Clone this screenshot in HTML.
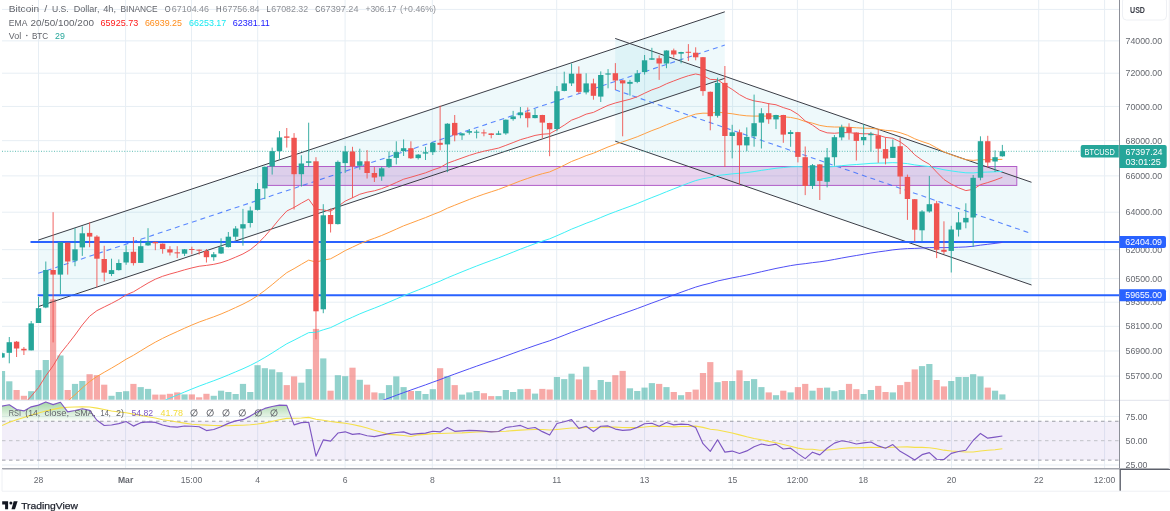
<!DOCTYPE html>
<html><head><meta charset="utf-8"><style>
html,body{margin:0;padding:0;background:#fff;}
body{width:1170px;height:511px;overflow:hidden;font-family:"Liberation Sans",sans-serif;}
svg{display:block;will-change:transform;}
</style></head><body>
<svg width="1170" height="511" viewBox="0 0 1170 511">
<rect width="1170" height="511" fill="#fff"/>
<g>
<defs>
<clipPath id="mainclip"><rect x="2" y="0" width="1117.5" height="400"/></clipPath>
<clipPath id="rsiclip"><rect x="2" y="400.5" width="1117.5" height="68"/></clipPath>
<linearGradient id="obg" gradientUnits="userSpaceOnUse" x1="0" y1="392" x2="0" y2="421.3"><stop offset="0" stop-color="rgb(76,175,80)" stop-opacity="0.75"/><stop offset="1" stop-color="rgb(76,175,80)" stop-opacity="0.02"/></linearGradient>
</defs>
<line x1="2" x2="1119.5" y1="9.4" y2="9.4" stroke="#e7eef4" stroke-width="1"/>
<line x1="2" x2="1119.5" y1="40.87" y2="40.87" stroke="#e7eef4" stroke-width="1"/>
<line x1="2" x2="1119.5" y1="73.2" y2="73.2" stroke="#e7eef4" stroke-width="1"/>
<line x1="2" x2="1119.5" y1="106.45" y2="106.45" stroke="#e7eef4" stroke-width="1"/>
<line x1="2" x2="1119.5" y1="140.66" y2="140.66" stroke="#e7eef4" stroke-width="1"/>
<line x1="2" x2="1119.5" y1="175.89" y2="175.89" stroke="#e7eef4" stroke-width="1"/>
<line x1="2" x2="1119.5" y1="212.2" y2="212.2" stroke="#e7eef4" stroke-width="1"/>
<line x1="2" x2="1119.5" y1="249.67" y2="249.67" stroke="#e7eef4" stroke-width="1"/>
<line x1="2" x2="1119.5" y1="278.57" y2="278.57" stroke="#e7eef4" stroke-width="1"/>
<line x1="2" x2="1119.5" y1="302.21" y2="302.21" stroke="#e7eef4" stroke-width="1"/>
<line x1="2" x2="1119.5" y1="326.34" y2="326.34" stroke="#e7eef4" stroke-width="1"/>
<line x1="2" x2="1119.5" y1="350.97" y2="350.97" stroke="#e7eef4" stroke-width="1"/>
<line x1="2" x2="1119.5" y1="376.12" y2="376.12" stroke="#e7eef4" stroke-width="1"/>
<line x1="38.5" x2="38.5" y1="0" y2="469" stroke="#e7eef4" stroke-width="1"/>
<line x1="125.6" x2="125.6" y1="0" y2="469" stroke="#e7eef4" stroke-width="1"/>
<line x1="191.5" x2="191.5" y1="0" y2="469" stroke="#e7eef4" stroke-width="1"/>
<line x1="257.7" x2="257.7" y1="0" y2="469" stroke="#e7eef4" stroke-width="1"/>
<line x1="345.1" x2="345.1" y1="0" y2="469" stroke="#e7eef4" stroke-width="1"/>
<line x1="432.3" x2="432.3" y1="0" y2="469" stroke="#e7eef4" stroke-width="1"/>
<line x1="556.7" x2="556.7" y1="0" y2="469" stroke="#e7eef4" stroke-width="1"/>
<line x1="644.6" x2="644.6" y1="0" y2="469" stroke="#e7eef4" stroke-width="1"/>
<line x1="732.6" x2="732.6" y1="0" y2="469" stroke="#e7eef4" stroke-width="1"/>
<line x1="797.4" x2="797.4" y1="0" y2="469" stroke="#e7eef4" stroke-width="1"/>
<line x1="863.3" x2="863.3" y1="0" y2="469" stroke="#e7eef4" stroke-width="1"/>
<line x1="951.5" x2="951.5" y1="0" y2="469" stroke="#e7eef4" stroke-width="1"/>
<line x1="1038.7" x2="1038.7" y1="0" y2="469" stroke="#e7eef4" stroke-width="1"/>
<line x1="1104.6" x2="1104.6" y1="0" y2="469" stroke="#e7eef4" stroke-width="1"/>
<line x1="2" x2="1119.5" y1="416.4" y2="416.4" stroke="#e7eef4" stroke-width="1"/>
<line x1="2" x2="1119.5" y1="465" y2="465" stroke="#e7eef4" stroke-width="1"/>
<g clip-path="url(#mainclip)">
<polygon points="38.2,240.1 724.8,11.8 724.8,78.3 38.2,306.6" fill="rgba(0,170,200,0.065)"/>
<polygon points="615.2,38.45 1031.5,182.28 1031.5,284.98 615.2,141.15" fill="rgba(0,170,200,0.065)"/>
<rect x="267.4" y="166.5" width="749.4" height="18.9" fill="rgba(156,39,176,0.2)" stroke="#b15ec8" stroke-width="1"/>
<rect x="-1.11" y="371" width="6.2" height="28.8" fill="rgba(38,166,154,0.5)"/>
<rect x="6.19" y="381.3" width="6.2" height="18.5" fill="rgba(38,166,154,0.5)"/>
<rect x="13.49" y="390" width="6.2" height="9.8" fill="rgba(239,83,80,0.5)"/>
<rect x="20.8" y="395.8" width="6.2" height="4" fill="rgba(239,83,80,0.5)"/>
<rect x="28.1" y="391.2" width="6.2" height="8.6" fill="rgba(38,166,154,0.5)"/>
<rect x="35.4" y="370.1" width="6.2" height="29.7" fill="rgba(38,166,154,0.5)"/>
<rect x="42.7" y="360" width="6.2" height="39.8" fill="rgba(38,166,154,0.5)"/>
<rect x="50" y="299.4" width="6.2" height="100.4" fill="rgba(239,83,80,0.5)"/>
<rect x="57.31" y="355.5" width="6.2" height="44.3" fill="rgba(38,166,154,0.5)"/>
<rect x="64.61" y="390" width="6.2" height="9.8" fill="rgba(239,83,80,0.5)"/>
<rect x="71.91" y="383.9" width="6.2" height="15.9" fill="rgba(38,166,154,0.5)"/>
<rect x="79.21" y="381" width="6.2" height="18.8" fill="rgba(38,166,154,0.5)"/>
<rect x="86.51" y="374.2" width="6.2" height="25.6" fill="rgba(239,83,80,0.5)"/>
<rect x="93.82" y="375.2" width="6.2" height="24.6" fill="rgba(239,83,80,0.5)"/>
<rect x="101.12" y="384.7" width="6.2" height="15.1" fill="rgba(239,83,80,0.5)"/>
<rect x="108.42" y="395.8" width="6.2" height="4" fill="rgba(38,166,154,0.5)"/>
<rect x="115.72" y="392" width="6.2" height="7.8" fill="rgba(38,166,154,0.5)"/>
<rect x="123.02" y="391.2" width="6.2" height="8.6" fill="rgba(38,166,154,0.5)"/>
<rect x="130.33" y="383.9" width="6.2" height="15.9" fill="rgba(239,83,80,0.5)"/>
<rect x="137.63" y="387.1" width="6.2" height="12.7" fill="rgba(38,166,154,0.5)"/>
<rect x="144.93" y="388.9" width="6.2" height="10.9" fill="rgba(38,166,154,0.5)"/>
<rect x="152.23" y="394.6" width="6.2" height="5.2" fill="rgba(239,83,80,0.5)"/>
<rect x="159.53" y="394.6" width="6.2" height="5.2" fill="rgba(239,83,80,0.5)"/>
<rect x="166.84" y="393.8" width="6.2" height="6" fill="rgba(239,83,80,0.5)"/>
<rect x="174.14" y="392.4" width="6.2" height="7.4" fill="rgba(239,83,80,0.5)"/>
<rect x="181.44" y="394.4" width="6.2" height="5.4" fill="rgba(38,166,154,0.5)"/>
<rect x="188.74" y="394.4" width="6.2" height="5.4" fill="rgba(239,83,80,0.5)"/>
<rect x="196.04" y="397.3" width="6.2" height="2.5" fill="rgba(239,83,80,0.5)"/>
<rect x="203.35" y="393.8" width="6.2" height="6" fill="rgba(239,83,80,0.5)"/>
<rect x="210.65" y="395.8" width="6.2" height="4" fill="rgba(38,166,154,0.5)"/>
<rect x="217.95" y="390.7" width="6.2" height="9.1" fill="rgba(38,166,154,0.5)"/>
<rect x="225.25" y="392" width="6.2" height="7.8" fill="rgba(38,166,154,0.5)"/>
<rect x="232.55" y="394" width="6.2" height="5.8" fill="rgba(38,166,154,0.5)"/>
<rect x="239.86" y="383.9" width="6.2" height="15.9" fill="rgba(38,166,154,0.5)"/>
<rect x="247.16" y="392" width="6.2" height="7.8" fill="rgba(38,166,154,0.5)"/>
<rect x="254.46" y="365.2" width="6.2" height="34.6" fill="rgba(38,166,154,0.5)"/>
<rect x="261.76" y="368.2" width="6.2" height="31.6" fill="rgba(38,166,154,0.5)"/>
<rect x="269.06" y="369.4" width="6.2" height="30.4" fill="rgba(38,166,154,0.5)"/>
<rect x="276.37" y="372.2" width="6.2" height="27.6" fill="rgba(38,166,154,0.5)"/>
<rect x="283.67" y="385.1" width="6.2" height="14.7" fill="rgba(239,83,80,0.5)"/>
<rect x="290.97" y="376.4" width="6.2" height="23.4" fill="rgba(239,83,80,0.5)"/>
<rect x="298.27" y="382.7" width="6.2" height="17.1" fill="rgba(38,166,154,0.5)"/>
<rect x="305.57" y="369.1" width="6.2" height="30.7" fill="rgba(38,166,154,0.5)"/>
<rect x="312.88" y="328.9" width="6.2" height="70.9" fill="rgba(239,83,80,0.5)"/>
<rect x="320.18" y="358.4" width="6.2" height="41.4" fill="rgba(38,166,154,0.5)"/>
<rect x="327.48" y="390.7" width="6.2" height="9.1" fill="rgba(239,83,80,0.5)"/>
<rect x="334.78" y="375.2" width="6.2" height="24.6" fill="rgba(38,166,154,0.5)"/>
<rect x="342.08" y="376.2" width="6.2" height="23.6" fill="rgba(38,166,154,0.5)"/>
<rect x="349.39" y="367.7" width="6.2" height="32.1" fill="rgba(239,83,80,0.5)"/>
<rect x="356.69" y="379.8" width="6.2" height="20" fill="rgba(38,166,154,0.5)"/>
<rect x="363.99" y="384.7" width="6.2" height="15.1" fill="rgba(239,83,80,0.5)"/>
<rect x="371.29" y="392.4" width="6.2" height="7.4" fill="rgba(239,83,80,0.5)"/>
<rect x="378.59" y="393.2" width="6.2" height="6.6" fill="rgba(38,166,154,0.5)"/>
<rect x="385.9" y="385.1" width="6.2" height="14.7" fill="rgba(38,166,154,0.5)"/>
<rect x="393.2" y="376.4" width="6.2" height="23.4" fill="rgba(38,166,154,0.5)"/>
<rect x="400.5" y="387.1" width="6.2" height="12.7" fill="rgba(38,166,154,0.5)"/>
<rect x="407.8" y="391" width="6.2" height="8.8" fill="rgba(239,83,80,0.5)"/>
<rect x="415.1" y="391" width="6.2" height="8.8" fill="rgba(38,166,154,0.5)"/>
<rect x="422.41" y="394" width="6.2" height="5.8" fill="rgba(38,166,154,0.5)"/>
<rect x="429.71" y="389.2" width="6.2" height="10.6" fill="rgba(38,166,154,0.5)"/>
<rect x="437.01" y="368.2" width="6.2" height="31.6" fill="rgba(239,83,80,0.5)"/>
<rect x="444.31" y="376.2" width="6.2" height="23.6" fill="rgba(38,166,154,0.5)"/>
<rect x="451.61" y="385.1" width="6.2" height="14.7" fill="rgba(239,83,80,0.5)"/>
<rect x="458.92" y="394.6" width="6.2" height="5.2" fill="rgba(38,166,154,0.5)"/>
<rect x="466.22" y="392.4" width="6.2" height="7.4" fill="rgba(38,166,154,0.5)"/>
<rect x="473.52" y="391" width="6.2" height="8.8" fill="rgba(38,166,154,0.5)"/>
<rect x="480.82" y="393.2" width="6.2" height="6.6" fill="rgba(239,83,80,0.5)"/>
<rect x="488.12" y="396.1" width="6.2" height="3.7" fill="rgba(239,83,80,0.5)"/>
<rect x="495.43" y="396.1" width="6.2" height="3.7" fill="rgba(38,166,154,0.5)"/>
<rect x="502.73" y="390" width="6.2" height="9.8" fill="rgba(38,166,154,0.5)"/>
<rect x="510.03" y="392" width="6.2" height="7.8" fill="rgba(38,166,154,0.5)"/>
<rect x="517.33" y="389.2" width="6.2" height="10.6" fill="rgba(38,166,154,0.5)"/>
<rect x="524.63" y="388.9" width="6.2" height="10.9" fill="rgba(239,83,80,0.5)"/>
<rect x="531.94" y="393.6" width="6.2" height="6.2" fill="rgba(38,166,154,0.5)"/>
<rect x="539.24" y="388.9" width="6.2" height="10.9" fill="rgba(239,83,80,0.5)"/>
<rect x="546.54" y="389.5" width="6.2" height="10.3" fill="rgba(239,83,80,0.5)"/>
<rect x="553.84" y="377" width="6.2" height="22.8" fill="rgba(38,166,154,0.5)"/>
<rect x="561.14" y="379.1" width="6.2" height="20.7" fill="rgba(38,166,154,0.5)"/>
<rect x="568.45" y="373.7" width="6.2" height="26.1" fill="rgba(38,166,154,0.5)"/>
<rect x="575.75" y="379.4" width="6.2" height="20.4" fill="rgba(239,83,80,0.5)"/>
<rect x="583.05" y="366.7" width="6.2" height="33.1" fill="rgba(38,166,154,0.5)"/>
<rect x="590.35" y="390" width="6.2" height="9.8" fill="rgba(239,83,80,0.5)"/>
<rect x="597.65" y="380" width="6.2" height="19.8" fill="rgba(38,166,154,0.5)"/>
<rect x="604.96" y="381.9" width="6.2" height="17.9" fill="rgba(38,166,154,0.5)"/>
<rect x="612.26" y="375.2" width="6.2" height="24.6" fill="rgba(239,83,80,0.5)"/>
<rect x="619.56" y="370.9" width="6.2" height="28.9" fill="rgba(239,83,80,0.5)"/>
<rect x="626.86" y="388.3" width="6.2" height="11.5" fill="rgba(38,166,154,0.5)"/>
<rect x="634.16" y="391" width="6.2" height="8.8" fill="rgba(38,166,154,0.5)"/>
<rect x="641.47" y="387.6" width="6.2" height="12.2" fill="rgba(38,166,154,0.5)"/>
<rect x="648.77" y="383.1" width="6.2" height="16.7" fill="rgba(38,166,154,0.5)"/>
<rect x="656.07" y="383.9" width="6.2" height="15.9" fill="rgba(239,83,80,0.5)"/>
<rect x="663.37" y="387.1" width="6.2" height="12.7" fill="rgba(38,166,154,0.5)"/>
<rect x="670.67" y="392" width="6.2" height="7.8" fill="rgba(239,83,80,0.5)"/>
<rect x="677.98" y="395.2" width="6.2" height="4.6" fill="rgba(38,166,154,0.5)"/>
<rect x="685.28" y="392" width="6.2" height="7.8" fill="rgba(239,83,80,0.5)"/>
<rect x="692.58" y="389.6" width="6.2" height="10.2" fill="rgba(239,83,80,0.5)"/>
<rect x="699.88" y="373" width="6.2" height="26.8" fill="rgba(239,83,80,0.5)"/>
<rect x="707.18" y="362.1" width="6.2" height="37.7" fill="rgba(239,83,80,0.5)"/>
<rect x="714.49" y="382.2" width="6.2" height="17.6" fill="rgba(38,166,154,0.5)"/>
<rect x="721.79" y="381" width="6.2" height="18.8" fill="rgba(239,83,80,0.5)"/>
<rect x="729.09" y="381" width="6.2" height="18.8" fill="rgba(38,166,154,0.5)"/>
<rect x="736.39" y="370.3" width="6.2" height="29.5" fill="rgba(239,83,80,0.5)"/>
<rect x="743.69" y="381" width="6.2" height="18.8" fill="rgba(38,166,154,0.5)"/>
<rect x="751" y="379.1" width="6.2" height="20.7" fill="rgba(38,166,154,0.5)"/>
<rect x="758.3" y="387.1" width="6.2" height="12.7" fill="rgba(38,166,154,0.5)"/>
<rect x="765.6" y="392.4" width="6.2" height="7.4" fill="rgba(239,83,80,0.5)"/>
<rect x="772.9" y="395.2" width="6.2" height="4.6" fill="rgba(38,166,154,0.5)"/>
<rect x="780.2" y="390.7" width="6.2" height="9.1" fill="rgba(239,83,80,0.5)"/>
<rect x="787.51" y="392.4" width="6.2" height="7.4" fill="rgba(38,166,154,0.5)"/>
<rect x="794.81" y="387.1" width="6.2" height="12.7" fill="rgba(239,83,80,0.5)"/>
<rect x="802.11" y="383.9" width="6.2" height="15.9" fill="rgba(239,83,80,0.5)"/>
<rect x="809.41" y="390.7" width="6.2" height="9.1" fill="rgba(38,166,154,0.5)"/>
<rect x="816.71" y="387.9" width="6.2" height="11.9" fill="rgba(239,83,80,0.5)"/>
<rect x="824.02" y="387.6" width="6.2" height="12.2" fill="rgba(38,166,154,0.5)"/>
<rect x="831.32" y="391.2" width="6.2" height="8.6" fill="rgba(38,166,154,0.5)"/>
<rect x="838.62" y="390" width="6.2" height="9.8" fill="rgba(38,166,154,0.5)"/>
<rect x="845.92" y="383.9" width="6.2" height="15.9" fill="rgba(239,83,80,0.5)"/>
<rect x="853.22" y="389.2" width="6.2" height="10.6" fill="rgba(239,83,80,0.5)"/>
<rect x="860.53" y="394" width="6.2" height="5.8" fill="rgba(38,166,154,0.5)"/>
<rect x="867.83" y="390" width="6.2" height="9.8" fill="rgba(38,166,154,0.5)"/>
<rect x="875.13" y="385.9" width="6.2" height="13.9" fill="rgba(239,83,80,0.5)"/>
<rect x="882.43" y="392" width="6.2" height="7.8" fill="rgba(239,83,80,0.5)"/>
<rect x="889.73" y="392.4" width="6.2" height="7.4" fill="rgba(38,166,154,0.5)"/>
<rect x="897.04" y="385.1" width="6.2" height="14.7" fill="rgba(239,83,80,0.5)"/>
<rect x="904.34" y="381.9" width="6.2" height="17.9" fill="rgba(239,83,80,0.5)"/>
<rect x="911.64" y="369.4" width="6.2" height="30.4" fill="rgba(239,83,80,0.5)"/>
<rect x="918.94" y="366.1" width="6.2" height="33.7" fill="rgba(38,166,154,0.5)"/>
<rect x="926.24" y="364" width="6.2" height="35.8" fill="rgba(38,166,154,0.5)"/>
<rect x="933.55" y="380" width="6.2" height="19.8" fill="rgba(239,83,80,0.5)"/>
<rect x="940.85" y="386.4" width="6.2" height="13.4" fill="rgba(239,83,80,0.5)"/>
<rect x="948.15" y="381" width="6.2" height="18.8" fill="rgba(38,166,154,0.5)"/>
<rect x="955.45" y="377" width="6.2" height="22.8" fill="rgba(38,166,154,0.5)"/>
<rect x="962.75" y="377" width="6.2" height="22.8" fill="rgba(38,166,154,0.5)"/>
<rect x="970.06" y="374.2" width="6.2" height="25.6" fill="rgba(38,166,154,0.5)"/>
<rect x="977.36" y="376.4" width="6.2" height="23.4" fill="rgba(38,166,154,0.5)"/>
<rect x="984.66" y="387.6" width="6.2" height="12.2" fill="rgba(239,83,80,0.5)"/>
<rect x="991.96" y="390.7" width="6.2" height="9.1" fill="rgba(38,166,154,0.5)"/>
<rect x="999.26" y="394.4" width="6.2" height="5.4" fill="rgba(38,166,154,0.5)"/>
<line x1="38.2" y1="240.1" x2="724.8" y2="11.8" stroke="#3a3d46" stroke-width="1"/>
<line x1="38.2" y1="306.6" x2="724.8" y2="78.3" stroke="#3a3d46" stroke-width="1"/>
<line x1="38.2" y1="273.35" x2="724.8" y2="45.05" stroke="#2962ff" stroke-width="1.1" stroke-dasharray="5 4" opacity="0.75"/>
<line x1="615.2" y1="38.45" x2="1031.5" y2="182.28" stroke="#3a3d46" stroke-width="1"/>
<line x1="615.2" y1="141.15" x2="1031.5" y2="284.98" stroke="#3a3d46" stroke-width="1"/>
<line x1="615.2" y1="89.8" x2="1031.5" y2="233.63" stroke="#2962ff" stroke-width="1.1" stroke-dasharray="5 4" opacity="0.75"/>
<line x1="30.5" x2="1120" y1="242" y2="242" stroke="#2962ff" stroke-width="2"/>
<line x1="37.7" x2="1120" y1="295.2" y2="295.2" stroke="#2962ff" stroke-width="2"/>
<line x1="2" x2="1119" y1="151.3" y2="151.3" stroke="#26a69a" stroke-width="1" stroke-dasharray="1 1.6" opacity="0.75"/>
<polyline points="1.99,537.46 9.29,535.35 16.59,533.34 23.9,531.37 31.2,529.11 38.5,526.69 45.8,523.84 53.1,521.08 60.41,517.96 67.71,515.11 75.01,512.15 82.31,509.02 89.61,505.98 96.92,503.25 104.22,500.71 111.52,498.18 118.82,495.59 126.12,492.91 133.43,490.39 140.73,487.69 148.03,484.98 155.33,482.31 162.63,479.75 169.94,477.26 177.24,474.81 184.54,472.34 191.84,469.9 199.14,467.51 206.45,465.22 213.75,462.92 221.05,460.57 228.35,458.12 235.65,455.6 242.96,453.06 250.26,450.38 257.56,447.48 264.86,444.33 272.16,441.02 279.47,437.58 286.77,434.19 294.07,431.3 301.37,428.31 308.67,425.33 315.98,424.14 323.28,421.87 330.58,419.73 337.88,416.87 345.18,413.91 352.49,411.17 359.79,408.4 367.09,405.82 374.39,403.31 381.69,400.73 389,398.06 396.3,395.34 403.6,392.61 410.9,390.03 418.2,387.44 425.51,384.86 432.81,382.19 440.11,379.57 447.41,376.73 454.71,374.07 462.02,371.42 469.32,368.77 476.62,366.16 483.92,363.6 491.22,361.09 498.53,358.6 505.83,355.96 513.13,353.32 520.43,350.67 527.73,348.11 535.04,345.55 542.34,343.11 549.64,340.78 556.94,338.02 564.24,335.2 571.55,332.29 578.85,329.64 586.15,326.92 593.45,324.38 600.75,321.62 608.06,318.87 615.36,316.25 622.66,313.69 629.96,311.14 637.26,308.53 644.57,305.78 651.87,303.04 659.17,300.4 666.47,297.64 673.77,294.95 681.08,292.27 688.38,289.63 695.68,287.08 702.98,284.96 710.28,283.16 717.59,280.99 724.89,279.45 732.19,277.89 739.49,276.5 746.79,275.03 754.1,273.41 761.4,271.71 768.7,270.09 776,268.44 783.3,267.03 790.61,265.61 797.91,264.48 805.21,263.67 812.51,262.65 819.81,261.81 827.12,260.72 834.42,259.43 841.72,258.04 849.02,256.72 856.32,255.51 863.63,254.27 870.93,253.01 878.23,251.92 885.53,250.96 892.83,249.87 900.14,249.12 907.44,248.61 914.74,248.42 922.04,248.05 929.34,247.6 936.65,247.63 943.95,247.67 951.25,247.48 958.55,247.23 965.85,246.94 973.16,246.23 980.46,245.14 987.76,244.29 995.06,243.39 1002.36,242.43" fill="none" stroke="#4646f4" stroke-width="0.95" stroke-linejoin="round" opacity="1"/>
<polyline points="1.99,481.29 9.29,478.37 16.59,475.65 23.9,473.04 31.2,469.88 38.5,466.46 45.8,462.23 53.1,458.21 60.41,453.53 67.71,449.41 75.01,445.1 82.31,440.51 89.61,436.11 96.92,432.33 104.22,428.94 111.52,425.58 118.82,422.14 126.12,418.52 133.43,415.23 140.73,411.64 148.03,408.04 155.33,404.54 162.63,401.26 169.94,398.12 177.24,395.08 184.54,392.01 191.84,389.02 199.14,386.12 206.45,383.42 213.75,380.72 221.05,377.93 228.35,374.96 235.65,371.87 242.96,368.76 250.26,365.41 257.56,361.65 264.86,357.46 272.16,353.01 279.47,348.33 286.77,343.78 294.07,340.17 301.37,336.4 308.67,332.67 315.98,332.24 323.28,329.81 330.58,327.63 337.88,324.11 345.18,320.43 352.49,317.18 359.79,313.88 367.09,310.92 374.39,308.13 381.69,305.19 389,302.11 396.3,298.95 403.6,295.77 410.9,292.89 418.2,289.98 425.51,287.09 432.81,284.06 440.11,281.13 447.41,277.8 454.71,274.81 462.02,271.84 469.32,268.88 476.62,266.01 483.92,263.23 491.22,260.55 498.53,257.89 505.83,254.99 513.13,252.08 520.43,249.15 527.73,246.41 535.04,243.66 542.34,241.14 549.64,238.82 556.94,235.71 564.24,232.5 571.55,229.14 578.85,226.26 586.15,223.25 593.45,220.59 600.75,217.53 608.06,214.5 615.36,211.69 622.66,209.01 629.96,206.35 637.26,203.57 644.57,200.56 651.87,197.57 659.17,194.76 666.47,191.73 673.77,188.85 681.08,185.98 688.38,183.19 695.68,180.56 702.98,178.72 710.28,177.45 717.59,175.5 724.89,174.71 732.19,173.85 739.49,173.28 746.79,172.55 754.1,171.55 761.4,170.37 768.7,169.34 776,168.24 783.3,167.56 790.61,166.85 797.91,166.65 805.21,167.03 812.51,166.99 819.81,167.27 827.12,167.07 834.42,166.47 841.72,165.68 849.02,165.01 856.32,164.53 863.63,163.98 870.93,163.37 878.23,163.08 885.53,162.99 892.83,162.67 900.14,162.94 907.44,163.64 914.74,164.92 922.04,165.82 929.34,166.57 936.65,168.16 943.95,169.76 951.25,170.92 958.55,171.91 965.85,172.81 973.16,172.91 980.46,172.27 987.76,172.08 995.06,171.78 1002.36,171.37" fill="none" stroke="#3ef0f6" stroke-width="1" stroke-linejoin="round" opacity="1"/>
<polyline points="1.99,448.64 9.29,444.28 16.59,440.37 23.9,436.71 31.2,432.06 38.5,426.95 45.8,420.38 53.1,414.31 60.41,407.07 67.71,401.01 75.01,394.68 82.31,387.92 89.61,381.61 96.92,376.54 104.22,372.28 111.52,368.11 118.82,363.8 126.12,359.22 133.43,355.3 140.73,350.82 148.03,346.37 155.33,342.16 162.63,338.36 169.94,334.87 177.24,331.57 184.54,328.23 191.84,325.06 199.14,322.05 206.45,319.44 213.75,316.82 221.05,314 228.35,310.88 235.65,307.53 242.96,304.15 250.26,300.34 257.56,295.77 264.86,290.43 272.16,284.65 279.47,278.51 286.77,272.67 294.07,268.65 301.37,264.34 308.67,260.13 315.98,262.09 323.28,260.22 330.58,258.79 337.88,254.83 345.18,250.6 352.49,247.18 359.79,243.69 367.09,240.84 374.39,238.29 381.69,235.47 389,232.37 396.3,229.12 403.6,225.84 410.9,223.11 418.2,220.35 425.51,217.6 432.81,214.58 440.11,211.76 447.41,208.18 454.71,205.24 462.02,202.34 469.32,199.46 476.62,196.73 483.92,194.18 491.22,191.8 498.53,189.45 505.83,186.64 513.13,183.8 520.43,180.92 527.73,178.4 535.04,175.85 542.34,173.71 549.64,171.94 556.94,168.67 564.24,165.21 571.55,161.48 578.85,158.67 586.15,155.63 593.45,153.23 600.75,150.06 608.06,146.96 615.36,144.28 622.66,141.83 629.96,139.42 637.26,136.76 644.57,133.67 651.87,130.62 659.17,127.92 666.47,124.78 673.77,121.95 681.08,119.12 688.38,116.45 695.68,114.07 702.98,113.16 710.28,113.28 717.59,112.07 724.89,113 732.19,113.75 739.49,114.98 746.79,115.83 754.1,116.12 761.4,116.01 768.7,116.13 776,116.09 783.3,116.81 790.61,117.41 797.91,118.93 805.21,121.49 812.51,123.17 819.81,125.38 827.12,126.62 834.42,127.03 841.72,127.04 849.02,127.25 856.32,127.79 863.63,128.15 870.93,128.37 878.23,129.16 885.53,130.3 892.83,130.94 900.14,132.69 907.44,135.22 914.74,138.79 922.04,141.56 929.34,143.95 936.65,147.93 943.95,151.84 951.25,154.79 958.55,157.37 965.85,159.68 973.16,160.39 980.46,159.63 987.76,159.74 995.06,159.64 1002.36,159.31" fill="none" stroke="#ff9f43" stroke-width="1" stroke-linejoin="round" opacity="1"/>
<polyline points="1.99,424.74 9.29,416.63 16.59,409.97 23.9,404.16 31.2,396.23 38.5,387.56 45.8,375.84 53.1,365.82 60.41,353.48 67.71,344.41 75.01,335.01 82.31,324.94 89.61,316.23 96.92,310.63 104.22,306.96 111.52,303.4 118.82,299.49 126.12,294.89 133.43,291.83 140.73,287.41 148.03,283.03 155.33,279.19 162.63,276.28 169.94,274 177.24,272.02 184.54,269.84 191.84,267.91 199.14,266.26 206.45,265.4 213.75,264.34 221.05,262.68 228.35,260.18 235.65,257.13 242.96,253.95 250.26,249.75 257.56,243.82 264.86,236.27 272.16,227.89 279.47,218.96 286.77,210.99 294.07,207.44 301.37,203.18 308.67,199.13 315.98,209.36 323.28,209.93 330.58,211.27 337.88,206.48 345.18,201.12 352.49,197.77 359.79,194.25 367.09,192.21 374.39,190.8 381.69,188.64 389,185.77 396.3,182.52 403.6,179.21 410.9,177.2 418.2,175.03 425.51,172.84 432.81,169.94 440.11,167.53 447.41,163.28 454.71,160.6 462.02,157.98 469.32,155.39 476.62,153.12 483.92,151.21 491.22,149.65 498.53,148.09 505.83,145.36 513.13,142.57 520.43,139.66 527.73,137.6 535.04,135.43 542.34,134.2 549.64,133.74 556.94,129.63 564.24,125.15 571.55,120.15 578.85,117.43 586.15,114.15 593.45,112.39 600.75,108.77 608.06,105.36 615.36,102.97 622.66,101.09 629.96,99.25 637.26,96.76 644.57,93.24 651.87,89.87 659.17,87.33 666.47,83.77 673.77,80.95 681.08,78.17 688.38,75.72 695.68,73.95 702.98,75.57 710.28,79.38 717.59,79.72 724.89,84.96 732.19,89.39 739.49,94.6 746.79,98.57 754.1,100.89 761.4,102.07 768.7,103.7 776,104.77 783.3,107.58 790.61,109.89 797.91,114.29 805.21,120.92 812.51,125.07 819.81,130.28 827.12,132.83 834.42,133.25 841.72,132.67 849.02,132.65 856.32,133.44 863.63,133.78 870.93,133.78 878.23,135.19 885.53,137.39 892.83,138.28 900.14,141.87 907.44,147.19 914.74,154.81 922.04,160.09 929.34,164.22 936.65,172.11 943.95,179.47 951.25,184.15 958.55,187.74 965.85,190.58 973.16,189.35 980.46,184.68 987.76,182.55 995.06,180.11 1002.36,177.33" fill="none" stroke="#f25a5a" stroke-width="1" stroke-linejoin="round" opacity="1"/>
<line x1="1.99" x2="1.99" y1="352.5" y2="358" stroke="#26a69a" stroke-width="0.9"/>
<rect x="-0.71" y="353.2" width="5.4" height="4.3" fill="#26a69a"/>
<line x1="9.29" x2="9.29" y1="337" y2="363.3" stroke="#26a69a" stroke-width="0.9"/>
<rect x="6.59" y="342.2" width="5.4" height="10.6" fill="#26a69a"/>
<line x1="16.59" x2="16.59" y1="341" y2="357" stroke="#ef5350" stroke-width="0.9"/>
<rect x="13.89" y="341.7" width="5.4" height="6.8" fill="#ef5350"/>
<line x1="23.9" x2="23.9" y1="347" y2="355" stroke="#ef5350" stroke-width="0.9"/>
<rect x="21.2" y="348.8" width="5.4" height="1.6" fill="#ef5350"/>
<line x1="31.2" x2="31.2" y1="321" y2="350.4" stroke="#26a69a" stroke-width="0.9"/>
<rect x="28.5" y="323.4" width="5.4" height="27" fill="#26a69a"/>
<line x1="38.5" x2="38.5" y1="297" y2="323" stroke="#26a69a" stroke-width="0.9"/>
<rect x="35.8" y="308.2" width="5.4" height="14.8" fill="#26a69a"/>
<line x1="45.8" x2="45.8" y1="261.5" y2="308.2" stroke="#26a69a" stroke-width="0.9"/>
<rect x="43.1" y="270" width="5.4" height="37.5" fill="#26a69a"/>
<line x1="53.1" x2="53.1" y1="212.2" y2="342.4" stroke="#ef5350" stroke-width="0.9"/>
<rect x="50.4" y="270" width="5.4" height="4.6" fill="#ef5350"/>
<line x1="60.41" x2="60.41" y1="242.3" y2="294.3" stroke="#26a69a" stroke-width="0.9"/>
<rect x="57.71" y="242.3" width="5.4" height="32.3" fill="#26a69a"/>
<line x1="67.71" x2="67.71" y1="242.7" y2="274.6" stroke="#ef5350" stroke-width="0.9"/>
<rect x="65.01" y="242.7" width="5.4" height="18.8" fill="#ef5350"/>
<line x1="75.01" x2="75.01" y1="228.2" y2="266.2" stroke="#26a69a" stroke-width="0.9"/>
<rect x="72.31" y="249.3" width="5.4" height="11.3" fill="#26a69a"/>
<line x1="82.31" x2="82.31" y1="226.3" y2="255.9" stroke="#26a69a" stroke-width="0.9"/>
<rect x="79.61" y="233.3" width="5.4" height="14.1" fill="#26a69a"/>
<line x1="89.61" x2="89.61" y1="222.4" y2="247.2" stroke="#ef5350" stroke-width="0.9"/>
<rect x="86.91" y="232.9" width="5.4" height="3.7" fill="#ef5350"/>
<line x1="96.92" x2="96.92" y1="235.2" y2="287.2" stroke="#ef5350" stroke-width="0.9"/>
<rect x="94.22" y="236.6" width="5.4" height="22.1" fill="#ef5350"/>
<line x1="104.22" x2="104.22" y1="245.8" y2="281.4" stroke="#ef5350" stroke-width="0.9"/>
<rect x="101.52" y="259" width="5.4" height="13.6" fill="#ef5350"/>
<line x1="111.52" x2="111.52" y1="258.7" y2="276.1" stroke="#26a69a" stroke-width="0.9"/>
<rect x="108.82" y="270.1" width="5.4" height="3.9" fill="#26a69a"/>
<line x1="118.82" x2="118.82" y1="259.4" y2="270.5" stroke="#26a69a" stroke-width="0.9"/>
<rect x="116.12" y="263" width="5.4" height="7.1" fill="#26a69a"/>
<line x1="126.12" x2="126.12" y1="245.4" y2="264.8" stroke="#26a69a" stroke-width="0.9"/>
<rect x="123.42" y="252.1" width="5.4" height="10.4" fill="#26a69a"/>
<line x1="133.43" x2="133.43" y1="237" y2="265.5" stroke="#ef5350" stroke-width="0.9"/>
<rect x="130.73" y="251.8" width="5.4" height="11.3" fill="#ef5350"/>
<line x1="140.73" x2="140.73" y1="239.6" y2="263" stroke="#26a69a" stroke-width="0.9"/>
<rect x="138.03" y="246.2" width="5.4" height="16.7" fill="#26a69a"/>
<line x1="148.03" x2="148.03" y1="228.2" y2="245.8" stroke="#26a69a" stroke-width="0.9"/>
<rect x="145.33" y="242.3" width="5.4" height="3.1" fill="#26a69a"/>
<line x1="155.33" x2="155.33" y1="241.5" y2="250.2" stroke="#ef5350" stroke-width="0.9"/>
<rect x="152.63" y="241.9" width="5.4" height="1.4" fill="#ef5350"/>
<line x1="162.63" x2="162.63" y1="243.5" y2="253.7" stroke="#ef5350" stroke-width="0.9"/>
<rect x="159.93" y="243.7" width="5.4" height="5.3" fill="#ef5350"/>
<line x1="169.94" x2="169.94" y1="246.2" y2="255.5" stroke="#ef5350" stroke-width="0.9"/>
<rect x="167.24" y="249.3" width="5.4" height="3.2" fill="#ef5350"/>
<line x1="177.24" x2="177.24" y1="246.2" y2="258.1" stroke="#ef5350" stroke-width="0.9"/>
<rect x="174.54" y="252.3" width="5.4" height="1.1" fill="#ef5350"/>
<line x1="184.54" x2="184.54" y1="249" y2="256" stroke="#26a69a" stroke-width="0.9"/>
<rect x="181.84" y="249.3" width="5.4" height="4.4" fill="#26a69a"/>
<line x1="191.84" x2="191.84" y1="246.7" y2="254.3" stroke="#ef5350" stroke-width="0.9"/>
<rect x="189.14" y="249" width="5.4" height="1" fill="#ef5350"/>
<line x1="199.14" x2="199.14" y1="249.5" y2="254.6" stroke="#ef5350" stroke-width="0.9"/>
<rect x="196.44" y="249.7" width="5.4" height="1" fill="#ef5350"/>
<line x1="206.45" x2="206.45" y1="249" y2="262.5" stroke="#ef5350" stroke-width="0.9"/>
<rect x="203.75" y="251" width="5.4" height="6.2" fill="#ef5350"/>
<line x1="213.75" x2="213.75" y1="252" y2="260.8" stroke="#26a69a" stroke-width="0.9"/>
<rect x="211.05" y="254.3" width="5.4" height="2.9" fill="#26a69a"/>
<line x1="221.05" x2="221.05" y1="238.3" y2="254" stroke="#26a69a" stroke-width="0.9"/>
<rect x="218.35" y="247.1" width="5.4" height="6.4" fill="#26a69a"/>
<line x1="228.35" x2="228.35" y1="232" y2="247.5" stroke="#26a69a" stroke-width="0.9"/>
<rect x="225.65" y="236.7" width="5.4" height="10.4" fill="#26a69a"/>
<line x1="235.65" x2="235.65" y1="226.1" y2="239.8" stroke="#26a69a" stroke-width="0.9"/>
<rect x="232.95" y="228.5" width="5.4" height="8.2" fill="#26a69a"/>
<line x1="242.96" x2="242.96" y1="208.9" y2="245.7" stroke="#26a69a" stroke-width="0.9"/>
<rect x="240.26" y="224.2" width="5.4" height="4.3" fill="#26a69a"/>
<line x1="250.26" x2="250.26" y1="206.6" y2="227.5" stroke="#26a69a" stroke-width="0.9"/>
<rect x="247.56" y="210.5" width="5.4" height="12.5" fill="#26a69a"/>
<line x1="257.56" x2="257.56" y1="183.1" y2="210.5" stroke="#26a69a" stroke-width="0.9"/>
<rect x="254.86" y="189" width="5.4" height="20.9" fill="#26a69a"/>
<line x1="264.86" x2="264.86" y1="166.5" y2="199.1" stroke="#26a69a" stroke-width="0.9"/>
<rect x="262.16" y="166.8" width="5.4" height="21.6" fill="#26a69a"/>
<line x1="272.16" x2="272.16" y1="147.6" y2="174.6" stroke="#26a69a" stroke-width="0.9"/>
<rect x="269.46" y="151.1" width="5.4" height="15.3" fill="#26a69a"/>
<line x1="279.47" x2="279.47" y1="131.1" y2="159.3" stroke="#26a69a" stroke-width="0.9"/>
<rect x="276.77" y="137.4" width="5.4" height="13.7" fill="#26a69a"/>
<line x1="286.77" x2="286.77" y1="128" y2="147.6" stroke="#ef5350" stroke-width="0.9"/>
<rect x="284.07" y="136.4" width="5.4" height="1.4" fill="#ef5350"/>
<line x1="294.07" x2="294.07" y1="133.1" y2="209.5" stroke="#ef5350" stroke-width="0.9"/>
<rect x="291.37" y="137.8" width="5.4" height="36.4" fill="#ef5350"/>
<line x1="301.37" x2="301.37" y1="155.3" y2="186.6" stroke="#26a69a" stroke-width="0.9"/>
<rect x="298.67" y="163.5" width="5.4" height="10.7" fill="#26a69a"/>
<line x1="308.67" x2="308.67" y1="122.7" y2="166.8" stroke="#26a69a" stroke-width="0.9"/>
<rect x="305.97" y="161.3" width="5.4" height="1.5" fill="#26a69a"/>
<line x1="315.98" x2="315.98" y1="157.2" y2="339.3" stroke="#ef5350" stroke-width="0.9"/>
<rect x="313.28" y="161.3" width="5.4" height="150" fill="#ef5350"/>
<line x1="323.28" x2="323.28" y1="204.2" y2="313.2" stroke="#26a69a" stroke-width="0.9"/>
<rect x="320.58" y="215.3" width="5.4" height="94" fill="#26a69a"/>
<line x1="330.58" x2="330.58" y1="208.5" y2="232.5" stroke="#ef5350" stroke-width="0.9"/>
<rect x="327.88" y="215" width="5.4" height="9.1" fill="#ef5350"/>
<line x1="337.88" x2="337.88" y1="160.5" y2="224.5" stroke="#26a69a" stroke-width="0.9"/>
<rect x="335.18" y="161.9" width="5.4" height="62.2" fill="#26a69a"/>
<line x1="345.18" x2="345.18" y1="145.9" y2="172.9" stroke="#26a69a" stroke-width="0.9"/>
<rect x="342.48" y="151.4" width="5.4" height="11.7" fill="#26a69a"/>
<line x1="352.49" x2="352.49" y1="146.8" y2="198" stroke="#ef5350" stroke-width="0.9"/>
<rect x="349.79" y="151.5" width="5.4" height="14.9" fill="#ef5350"/>
<line x1="359.79" x2="359.79" y1="148.7" y2="169.7" stroke="#26a69a" stroke-width="0.9"/>
<rect x="357.09" y="161.3" width="5.4" height="4.5" fill="#26a69a"/>
<line x1="367.09" x2="367.09" y1="150.1" y2="178.5" stroke="#ef5350" stroke-width="0.9"/>
<rect x="364.39" y="161.3" width="5.4" height="11.7" fill="#ef5350"/>
<line x1="374.39" x2="374.39" y1="167.1" y2="182" stroke="#ef5350" stroke-width="0.9"/>
<rect x="371.69" y="173" width="5.4" height="4.5" fill="#ef5350"/>
<line x1="381.69" x2="381.69" y1="166.8" y2="180.8" stroke="#26a69a" stroke-width="0.9"/>
<rect x="378.99" y="168.3" width="5.4" height="8.2" fill="#26a69a"/>
<line x1="389" x2="389" y1="151.5" y2="168" stroke="#26a69a" stroke-width="0.9"/>
<rect x="386.3" y="158.9" width="5.4" height="8.2" fill="#26a69a"/>
<line x1="396.3" x2="396.3" y1="141.3" y2="164.4" stroke="#26a69a" stroke-width="0.9"/>
<rect x="393.6" y="152.1" width="5.4" height="5.8" fill="#26a69a"/>
<line x1="403.6" x2="403.6" y1="139.4" y2="156" stroke="#26a69a" stroke-width="0.9"/>
<rect x="400.9" y="148.2" width="5.4" height="2.9" fill="#26a69a"/>
<line x1="410.9" x2="410.9" y1="141.3" y2="159" stroke="#ef5350" stroke-width="0.9"/>
<rect x="408.2" y="148.2" width="5.4" height="10.1" fill="#ef5350"/>
<line x1="418.2" x2="418.2" y1="154" y2="159.5" stroke="#26a69a" stroke-width="0.9"/>
<rect x="415.5" y="154.6" width="5.4" height="3.5" fill="#26a69a"/>
<line x1="425.51" x2="425.51" y1="146.8" y2="160" stroke="#26a69a" stroke-width="0.9"/>
<rect x="422.81" y="152.2" width="5.4" height="1.4" fill="#26a69a"/>
<line x1="432.81" x2="432.81" y1="141.9" y2="155" stroke="#26a69a" stroke-width="0.9"/>
<rect x="430.11" y="142.8" width="5.4" height="9.4" fill="#26a69a"/>
<line x1="440.11" x2="440.11" y1="105.7" y2="150.3" stroke="#ef5350" stroke-width="0.9"/>
<rect x="437.41" y="142.8" width="5.4" height="2" fill="#ef5350"/>
<line x1="447.41" x2="447.41" y1="123.2" y2="172.2" stroke="#26a69a" stroke-width="0.9"/>
<rect x="444.71" y="123.7" width="5.4" height="20.7" fill="#26a69a"/>
<line x1="454.71" x2="454.71" y1="115" y2="141.3" stroke="#ef5350" stroke-width="0.9"/>
<rect x="452.01" y="122.9" width="5.4" height="12.5" fill="#ef5350"/>
<line x1="462.02" x2="462.02" y1="133" y2="139.9" stroke="#26a69a" stroke-width="0.9"/>
<rect x="459.32" y="133.4" width="5.4" height="2" fill="#26a69a"/>
<line x1="469.32" x2="469.32" y1="129.1" y2="134.6" stroke="#26a69a" stroke-width="0.9"/>
<rect x="466.62" y="131.1" width="5.4" height="1.6" fill="#26a69a"/>
<line x1="476.62" x2="476.62" y1="129.8" y2="138.4" stroke="#26a69a" stroke-width="0.9"/>
<rect x="473.92" y="131.7" width="5.4" height="1" fill="#26a69a"/>
<line x1="483.92" x2="483.92" y1="129.5" y2="136.3" stroke="#ef5350" stroke-width="0.9"/>
<rect x="481.22" y="132.4" width="5.4" height="1" fill="#ef5350"/>
<line x1="491.22" x2="491.22" y1="133.2" y2="138.3" stroke="#ef5350" stroke-width="0.9"/>
<rect x="488.52" y="133.4" width="5.4" height="1.6" fill="#ef5350"/>
<line x1="498.53" x2="498.53" y1="130.8" y2="135" stroke="#26a69a" stroke-width="0.9"/>
<rect x="495.83" y="133.4" width="5.4" height="1.4" fill="#26a69a"/>
<line x1="505.83" x2="505.83" y1="119.5" y2="134.8" stroke="#26a69a" stroke-width="0.9"/>
<rect x="503.13" y="119.7" width="5.4" height="13.7" fill="#26a69a"/>
<line x1="513.13" x2="513.13" y1="110.9" y2="120.7" stroke="#26a69a" stroke-width="0.9"/>
<rect x="510.43" y="116.4" width="5.4" height="2.7" fill="#26a69a"/>
<line x1="520.43" x2="520.43" y1="107" y2="118.3" stroke="#26a69a" stroke-width="0.9"/>
<rect x="517.73" y="112.4" width="5.4" height="2.8" fill="#26a69a"/>
<line x1="527.73" x2="527.73" y1="107.4" y2="127.4" stroke="#ef5350" stroke-width="0.9"/>
<rect x="525.03" y="112.4" width="5.4" height="5.8" fill="#ef5350"/>
<line x1="535.04" x2="535.04" y1="108.9" y2="118.3" stroke="#26a69a" stroke-width="0.9"/>
<rect x="532.34" y="115" width="5.4" height="3.1" fill="#26a69a"/>
<line x1="542.34" x2="542.34" y1="114.8" y2="138.4" stroke="#ef5350" stroke-width="0.9"/>
<rect x="539.64" y="115" width="5.4" height="7.6" fill="#ef5350"/>
<line x1="549.64" x2="549.64" y1="122.8" y2="156.2" stroke="#ef5350" stroke-width="0.9"/>
<rect x="546.94" y="123" width="5.4" height="6.3" fill="#ef5350"/>
<line x1="556.94" x2="556.94" y1="86" y2="131.2" stroke="#26a69a" stroke-width="0.9"/>
<rect x="554.24" y="91.3" width="5.4" height="37.7" fill="#26a69a"/>
<line x1="564.24" x2="564.24" y1="71.7" y2="91.3" stroke="#26a69a" stroke-width="0.9"/>
<rect x="561.54" y="83.4" width="5.4" height="7.5" fill="#26a69a"/>
<line x1="571.55" x2="571.55" y1="63.5" y2="86" stroke="#26a69a" stroke-width="0.9"/>
<rect x="568.85" y="73.7" width="5.4" height="9.7" fill="#26a69a"/>
<line x1="578.85" x2="578.85" y1="66.4" y2="93.8" stroke="#ef5350" stroke-width="0.9"/>
<rect x="576.15" y="73.7" width="5.4" height="18.2" fill="#ef5350"/>
<line x1="586.15" x2="586.15" y1="73.3" y2="94.4" stroke="#26a69a" stroke-width="0.9"/>
<rect x="583.45" y="83.4" width="5.4" height="9" fill="#26a69a"/>
<line x1="593.45" x2="593.45" y1="78.7" y2="99.7" stroke="#ef5350" stroke-width="0.9"/>
<rect x="590.75" y="83.4" width="5.4" height="12.4" fill="#ef5350"/>
<line x1="600.75" x2="600.75" y1="71.4" y2="102" stroke="#26a69a" stroke-width="0.9"/>
<rect x="598.05" y="75" width="5.4" height="21.6" fill="#26a69a"/>
<line x1="608.06" x2="608.06" y1="69.1" y2="88.3" stroke="#26a69a" stroke-width="0.9"/>
<rect x="605.36" y="73.4" width="5.4" height="1.2" fill="#26a69a"/>
<line x1="615.36" x2="615.36" y1="63.1" y2="90" stroke="#ef5350" stroke-width="0.9"/>
<rect x="612.66" y="73.2" width="5.4" height="7.3" fill="#ef5350"/>
<line x1="622.66" x2="622.66" y1="80.1" y2="136.3" stroke="#ef5350" stroke-width="0.9"/>
<rect x="619.96" y="80.3" width="5.4" height="3.1" fill="#ef5350"/>
<line x1="629.96" x2="629.96" y1="79.9" y2="95.6" stroke="#26a69a" stroke-width="0.9"/>
<rect x="627.26" y="81.9" width="5.4" height="1.9" fill="#26a69a"/>
<line x1="637.26" x2="637.26" y1="70.1" y2="83.2" stroke="#26a69a" stroke-width="0.9"/>
<rect x="634.56" y="73.4" width="5.4" height="8.5" fill="#26a69a"/>
<line x1="644.57" x2="644.57" y1="55" y2="74.6" stroke="#26a69a" stroke-width="0.9"/>
<rect x="641.87" y="60.3" width="5.4" height="11.8" fill="#26a69a"/>
<line x1="651.87" x2="651.87" y1="47.8" y2="59.8" stroke="#26a69a" stroke-width="0.9"/>
<rect x="649.17" y="58.3" width="5.4" height="1.4" fill="#26a69a"/>
<line x1="659.17" x2="659.17" y1="55.4" y2="79.9" stroke="#ef5350" stroke-width="0.9"/>
<rect x="656.47" y="58.3" width="5.4" height="5.2" fill="#ef5350"/>
<line x1="666.47" x2="666.47" y1="50.3" y2="68.2" stroke="#26a69a" stroke-width="0.9"/>
<rect x="663.77" y="50.5" width="5.4" height="13" fill="#26a69a"/>
<line x1="673.77" x2="673.77" y1="48.6" y2="57.5" stroke="#ef5350" stroke-width="0.9"/>
<rect x="671.07" y="50.4" width="5.4" height="4.1" fill="#ef5350"/>
<line x1="681.08" x2="681.08" y1="51.8" y2="63.3" stroke="#26a69a" stroke-width="0.9"/>
<rect x="678.38" y="52" width="5.4" height="1.7" fill="#26a69a"/>
<line x1="688.38" x2="688.38" y1="44.1" y2="61" stroke="#ef5350" stroke-width="0.9"/>
<rect x="685.68" y="51.8" width="5.4" height="1" fill="#ef5350"/>
<line x1="695.68" x2="695.68" y1="47.3" y2="60.3" stroke="#ef5350" stroke-width="0.9"/>
<rect x="692.98" y="52.7" width="5.4" height="4.6" fill="#ef5350"/>
<line x1="702.98" x2="702.98" y1="57" y2="95.8" stroke="#ef5350" stroke-width="0.9"/>
<rect x="700.28" y="57.2" width="5.4" height="33.9" fill="#ef5350"/>
<line x1="710.28" x2="710.28" y1="91.5" y2="130.3" stroke="#ef5350" stroke-width="0.9"/>
<rect x="707.58" y="91.8" width="5.4" height="24.4" fill="#ef5350"/>
<line x1="717.59" x2="717.59" y1="77.7" y2="117.6" stroke="#26a69a" stroke-width="0.9"/>
<rect x="714.89" y="82.9" width="5.4" height="32.9" fill="#26a69a"/>
<line x1="724.89" x2="724.89" y1="66" y2="167" stroke="#ef5350" stroke-width="0.9"/>
<rect x="722.19" y="82.9" width="5.4" height="53.1" fill="#ef5350"/>
<line x1="732.19" x2="732.19" y1="124.8" y2="158.4" stroke="#26a69a" stroke-width="0.9"/>
<rect x="729.49" y="132.3" width="5.4" height="3.7" fill="#26a69a"/>
<line x1="739.49" x2="739.49" y1="129.6" y2="184.5" stroke="#ef5350" stroke-width="0.9"/>
<rect x="736.79" y="132.3" width="5.4" height="13" fill="#ef5350"/>
<line x1="746.79" x2="746.79" y1="127.4" y2="151.2" stroke="#26a69a" stroke-width="0.9"/>
<rect x="744.09" y="136.9" width="5.4" height="8.5" fill="#26a69a"/>
<line x1="754.1" x2="754.1" y1="94.6" y2="146.7" stroke="#26a69a" stroke-width="0.9"/>
<rect x="751.4" y="123.2" width="5.4" height="13.1" fill="#26a69a"/>
<line x1="761.4" x2="761.4" y1="108.2" y2="148.5" stroke="#26a69a" stroke-width="0.9"/>
<rect x="758.7" y="113.3" width="5.4" height="9.3" fill="#26a69a"/>
<line x1="768.7" x2="768.7" y1="103.1" y2="123.8" stroke="#ef5350" stroke-width="0.9"/>
<rect x="766" y="113.2" width="5.4" height="6.1" fill="#ef5350"/>
<line x1="776" x2="776" y1="114.8" y2="129.1" stroke="#26a69a" stroke-width="0.9"/>
<rect x="773.3" y="115" width="5.4" height="4.4" fill="#26a69a"/>
<line x1="783.3" x2="783.3" y1="114.8" y2="142.8" stroke="#ef5350" stroke-width="0.9"/>
<rect x="780.6" y="115" width="5.4" height="19.6" fill="#ef5350"/>
<line x1="790.61" x2="790.61" y1="130.1" y2="146.8" stroke="#26a69a" stroke-width="0.9"/>
<rect x="787.91" y="132.1" width="5.4" height="1.9" fill="#26a69a"/>
<line x1="797.91" x2="797.91" y1="131.9" y2="162.4" stroke="#ef5350" stroke-width="0.9"/>
<rect x="795.21" y="132.1" width="5.4" height="24.8" fill="#ef5350"/>
<line x1="805.21" x2="805.21" y1="146.5" y2="195.1" stroke="#ef5350" stroke-width="0.9"/>
<rect x="802.51" y="157.2" width="5.4" height="28.7" fill="#ef5350"/>
<line x1="812.51" x2="812.51" y1="164" y2="189" stroke="#26a69a" stroke-width="0.9"/>
<rect x="809.81" y="165.2" width="5.4" height="20.7" fill="#26a69a"/>
<line x1="819.81" x2="819.81" y1="164.2" y2="200" stroke="#ef5350" stroke-width="0.9"/>
<rect x="817.11" y="164.4" width="5.4" height="16.5" fill="#ef5350"/>
<line x1="827.12" x2="827.12" y1="148" y2="187.4" stroke="#26a69a" stroke-width="0.9"/>
<rect x="824.42" y="157.4" width="5.4" height="24.4" fill="#26a69a"/>
<line x1="834.42" x2="834.42" y1="135" y2="165.8" stroke="#26a69a" stroke-width="0.9"/>
<rect x="831.72" y="137.2" width="5.4" height="20" fill="#26a69a"/>
<line x1="841.72" x2="841.72" y1="124.7" y2="140.3" stroke="#26a69a" stroke-width="0.9"/>
<rect x="839.02" y="127.2" width="5.4" height="10.2" fill="#26a69a"/>
<line x1="849.02" x2="849.02" y1="123.3" y2="139.7" stroke="#ef5350" stroke-width="0.9"/>
<rect x="846.32" y="127.2" width="5.4" height="5.3" fill="#ef5350"/>
<line x1="856.32" x2="856.32" y1="132.3" y2="160.5" stroke="#ef5350" stroke-width="0.9"/>
<rect x="853.62" y="132.5" width="5.4" height="8.4" fill="#ef5350"/>
<line x1="863.63" x2="863.63" y1="124.1" y2="145.2" stroke="#26a69a" stroke-width="0.9"/>
<rect x="860.93" y="137" width="5.4" height="3.3" fill="#26a69a"/>
<line x1="870.93" x2="870.93" y1="131.9" y2="151.5" stroke="#26a69a" stroke-width="0.9"/>
<rect x="868.23" y="133.8" width="5.4" height="1.4" fill="#26a69a"/>
<line x1="878.23" x2="878.23" y1="129.6" y2="162.8" stroke="#ef5350" stroke-width="0.9"/>
<rect x="875.53" y="135.4" width="5.4" height="13.3" fill="#ef5350"/>
<line x1="885.53" x2="885.53" y1="137.4" y2="164.4" stroke="#ef5350" stroke-width="0.9"/>
<rect x="882.83" y="149.1" width="5.4" height="9.4" fill="#ef5350"/>
<line x1="892.83" x2="892.83" y1="139.4" y2="158" stroke="#26a69a" stroke-width="0.9"/>
<rect x="890.13" y="146.8" width="5.4" height="11.1" fill="#26a69a"/>
<line x1="900.14" x2="900.14" y1="137.4" y2="194.1" stroke="#ef5350" stroke-width="0.9"/>
<rect x="897.44" y="146.2" width="5.4" height="30.3" fill="#ef5350"/>
<line x1="907.44" x2="907.44" y1="174.6" y2="219.9" stroke="#ef5350" stroke-width="0.9"/>
<rect x="904.74" y="176.9" width="5.4" height="22.1" fill="#ef5350"/>
<line x1="914.74" x2="914.74" y1="199" y2="241.4" stroke="#ef5350" stroke-width="0.9"/>
<rect x="912.04" y="199.2" width="5.4" height="30.5" fill="#ef5350"/>
<line x1="922.04" x2="922.04" y1="210.1" y2="241.4" stroke="#26a69a" stroke-width="0.9"/>
<rect x="919.34" y="211.5" width="5.4" height="18.8" fill="#26a69a"/>
<line x1="929.34" x2="929.34" y1="175.9" y2="212.7" stroke="#26a69a" stroke-width="0.9"/>
<rect x="926.64" y="204.2" width="5.4" height="7.3" fill="#26a69a"/>
<line x1="936.65" x2="936.65" y1="200.9" y2="258.1" stroke="#ef5350" stroke-width="0.9"/>
<rect x="933.95" y="203.3" width="5.4" height="46.5" fill="#ef5350"/>
<line x1="943.95" x2="943.95" y1="221.3" y2="254.1" stroke="#ef5350" stroke-width="0.9"/>
<rect x="941.25" y="249.8" width="5.4" height="2" fill="#ef5350"/>
<line x1="951.25" x2="951.25" y1="225.8" y2="272.5" stroke="#26a69a" stroke-width="0.9"/>
<rect x="948.55" y="229.5" width="5.4" height="21.4" fill="#26a69a"/>
<line x1="958.55" x2="958.55" y1="212.1" y2="236.5" stroke="#26a69a" stroke-width="0.9"/>
<rect x="955.85" y="222.4" width="5.4" height="7.3" fill="#26a69a"/>
<line x1="965.85" x2="965.85" y1="203.3" y2="228.3" stroke="#26a69a" stroke-width="0.9"/>
<rect x="963.15" y="217.9" width="5.4" height="4.5" fill="#26a69a"/>
<line x1="973.16" x2="973.16" y1="175" y2="247" stroke="#26a69a" stroke-width="0.9"/>
<rect x="970.46" y="177.8" width="5.4" height="39.7" fill="#26a69a"/>
<line x1="980.46" x2="980.46" y1="136.3" y2="180.3" stroke="#26a69a" stroke-width="0.9"/>
<rect x="977.76" y="141.2" width="5.4" height="36.5" fill="#26a69a"/>
<line x1="987.76" x2="987.76" y1="135.8" y2="167.5" stroke="#ef5350" stroke-width="0.9"/>
<rect x="985.06" y="141.2" width="5.4" height="21.3" fill="#ef5350"/>
<line x1="995.06" x2="995.06" y1="150.4" y2="172" stroke="#26a69a" stroke-width="0.9"/>
<rect x="992.36" y="157.2" width="5.4" height="4.3" fill="#26a69a"/>
<line x1="1002.36" x2="1002.36" y1="144.9" y2="156.7" stroke="#26a69a" stroke-width="0.9"/>
<rect x="999.66" y="151.2" width="5.4" height="5.1" fill="#26a69a"/>
</g>
<g clip-path="url(#rsiclip)">
<rect x="2" y="421.26" width="1117.5" height="38.88" fill="rgba(126,87,194,0.1)"/>
<polygon points="1.99,406.12 9.29,404.78 16.59,409.5 23.9,410.92 31.2,406.86 38.5,405.13 45.8,401.93 53.1,404.66 60.41,402.24 67.71,411.86 75.01,410.48 82.31,408.8 89.61,410.41 96.92,420.23 98.33,421.26 98.33,421.26 1.99,421.26" fill="url(#obg)"/>
<polygon points="234.58,421.26 235.65,420.9 242.96,419.66 250.26,416.11 257.56,411.76 264.86,408.41 272.16,406.52 279.47,405.08 286.77,405.34 292.72,421.26 292.72,421.26 234.58,421.26" fill="url(#obg)"/>
<polygon points="565.81,421.26 571.55,419.6 572.93,421.26 572.93,421.26 565.81,421.26" fill="url(#obg)"/>
<line x1="2" x2="1119.5" y1="421.26" y2="421.26" stroke="#9c9fa7" stroke-width="1" stroke-dasharray="3.5 3.5"/>
<line x1="2" x2="1119.5" y1="440.7" y2="440.7" stroke="#c0c2c8" stroke-width="1" stroke-dasharray="3.5 3.5"/>
<line x1="2" x2="1119.5" y1="460.14" y2="460.14" stroke="#9c9fa7" stroke-width="1" stroke-dasharray="3.5 3.5"/>
<polyline points="1.99,425.59 9.29,422.33 16.59,419.69 23.9,417.42 31.2,415.15 38.5,413.02 45.8,410.95 53.1,409.34 60.41,407.85 67.71,407.31 75.01,406.96 82.31,406.77 89.61,406.96 96.92,408.14 104.22,409.52 111.52,410.97 118.82,411.98 126.12,412.74 133.43,414.11 140.73,415.37 148.03,416.8 155.33,418.06 162.63,419.69 169.94,420.75 177.24,421.94 184.54,423.16 191.84,424.29 199.14,424.76 206.45,425.12 213.75,425.44 221.05,425.66 228.35,425.79 235.65,425.42 242.96,425.21 250.26,424.79 257.56,424.03 264.86,422.85 272.16,421.4 279.47,419.83 286.77,418.36 294.07,418.26 301.37,417.97 308.67,417.37 315.98,419.28 323.28,420.21 330.58,421.48 337.88,422.35 345.18,423.22 352.49,424.52 359.79,426.09 367.09,428.04 374.39,430.19 381.69,432.34 389,434.36 396.3,434.91 403.6,435.57 410.9,436.44 418.2,434.83 425.51,434.35 432.81,433.64 440.11,433.56 447.41,433.26 454.71,433.04 462.02,432.84 469.32,432.46 476.62,432.03 483.92,431.75 491.22,431.62 498.53,431.55 505.83,431.23 513.13,430.67 520.43,430.08 527.73,429.75 535.04,429.48 542.34,429.46 549.64,430 556.94,429.44 564.24,428.78 571.55,428.01 578.85,427.85 586.15,427.5 593.45,427.47 600.75,427.1 608.06,426.99 615.36,427.17 622.66,427.53 629.96,427.63 637.26,427.62 644.57,427.06 651.87,426.22 659.17,426.41 666.47,426.47 673.77,426.85 681.08,426.54 688.38,426.42 695.68,426.13 702.98,427.37 710.28,429.19 717.59,429.95 724.89,431.51 732.19,433.02 739.49,434.88 746.79,436.82 754.1,438.5 761.4,439.77 768.7,441.4 776,442.78 783.3,444.56 790.61,446.25 797.91,448.11 805.21,449.18 812.51,449.24 819.81,450.32 827.12,450.04 834.42,449.47 841.72,448.56 849.02,447.92 856.32,447.72 863.63,447.64 870.93,447.4 878.23,447.52 885.53,447.47 892.83,447.22 900.14,447.06 907.44,446.83 914.74,447.39 922.04,447.37 929.34,447.68 936.65,448.83 943.95,450.17 951.25,450.98 958.55,451.51 965.85,452.03 973.16,451.93 980.46,451.04 987.76,450.31 995.06,449.78 1002.36,448.68" fill="none" stroke="#f5e04a" stroke-width="1.1"/>
<polyline points="1.99,406.12 9.29,404.78 16.59,409.5 23.9,410.92 31.2,406.86 38.5,405.13 45.8,401.93 53.1,404.66 60.41,402.24 67.71,411.86 75.01,410.48 82.31,408.8 89.61,410.41 96.92,420.23 104.22,425.53 111.52,425.04 118.82,423.63 126.12,421.53 133.43,426.11 140.73,422.68 148.03,421.93 155.33,422.38 162.63,425.04 169.94,426.68 177.24,427.12 184.54,425.96 191.84,426.23 199.14,426.76 206.45,430.57 213.75,429.48 221.05,426.83 228.35,423.36 235.65,420.9 242.96,419.66 250.26,416.11 257.56,411.76 264.86,408.41 272.16,406.52 279.47,405.08 286.77,405.34 294.07,424.88 301.37,422.65 308.67,422.2 315.98,456.21 323.28,439.9 330.58,441.15 337.88,433.05 345.18,431.82 352.49,434.36 359.79,433.69 367.09,435.77 374.39,436.59 381.69,435.14 389,433.65 396.3,432.55 403.6,431.89 410.9,434.37 418.2,433.66 425.51,433.18 432.81,431.27 440.11,431.88 447.41,427.57 454.71,431.34 462.02,430.9 469.32,430.38 476.62,430.6 483.92,431.19 491.22,431.94 498.53,431.46 505.83,427.47 513.13,426.55 520.43,425.43 527.73,428.53 535.04,427.51 542.34,431.63 549.64,435.04 556.94,423.53 564.24,421.71 571.55,419.6 578.85,428.36 586.15,426.21 593.45,431.57 600.75,426.3 608.06,425.92 615.36,429.09 622.66,430.38 629.96,429.93 637.26,427.38 644.57,423.8 651.87,423.28 659.17,426.19 666.47,422.56 673.77,424.85 681.08,424.11 688.38,424.55 695.68,427.49 702.98,443.64 710.28,451.37 717.59,439.8 724.89,452.15 732.19,451.07 739.49,453.5 746.79,450.91 754.1,446.8 761.4,443.96 768.7,445.45 776,444.13 783.3,448.99 790.61,448.17 797.91,453.63 805.21,458.64 812.51,452.17 819.81,454.91 827.12,448.22 834.42,443.11 841.72,440.71 849.02,441.98 856.32,443.99 863.63,442.92 870.93,442 878.23,445.91 885.53,448.29 892.83,444.59 900.14,451.36 907.44,455.46 914.74,460 922.04,454.67 929.34,452.59 936.65,459.2 943.95,459.45 951.25,453.32 958.55,451.45 965.85,450.23 973.16,440.49 980.46,433.46 987.76,438.15 995.06,437.14 1002.36,435.97" fill="none" stroke="#7e57c2" stroke-width="1.15" stroke-linejoin="round"/>
</g>
<line x1="2" x2="1170" y1="400.3" y2="400.3" stroke="#e0e3eb" stroke-width="1"/>
<line x1="1119.5" x2="1119.5" y1="0" y2="469" stroke="#8c8f98" stroke-width="1"/>
<line x1="2" x2="1120" y1="468.8" y2="468.8" stroke="#a3a6ae" stroke-width="1.4"/>
<line x1="1120" x2="1170" y1="469.3" y2="469.3" stroke="#5d606b" stroke-width="1.4"/>
<line x1="1120.2" x2="1120.2" y1="469" y2="491" stroke="#5d606b" stroke-width="1.4"/>
<line x1="2" x2="1170" y1="491.2" y2="491.2" stroke="#eef0f4" stroke-width="1"/>
<line x1="1169.3" x2="1169.3" y1="0" y2="469" stroke="#f0f1f4" stroke-width="1"/>
<line x1="2" x2="2" y1="469" y2="491.2" stroke="#eef0f4" stroke-width="1"/>
<text x="1125.5" y="43.97" font-family="Liberation Sans, sans-serif" font-size="8.8" fill="#65686f" text-anchor="start" textLength="36.6" lengthAdjust="spacingAndGlyphs">74000.00</text>
<text x="1125.5" y="76.3" font-family="Liberation Sans, sans-serif" font-size="8.8" fill="#65686f" text-anchor="start" textLength="36.6" lengthAdjust="spacingAndGlyphs">72000.00</text>
<text x="1125.5" y="109.55" font-family="Liberation Sans, sans-serif" font-size="8.8" fill="#65686f" text-anchor="start" textLength="36.6" lengthAdjust="spacingAndGlyphs">70000.00</text>
<text x="1125.5" y="143.76" font-family="Liberation Sans, sans-serif" font-size="8.8" fill="#65686f" text-anchor="start" textLength="36.6" lengthAdjust="spacingAndGlyphs">68000.00</text>
<text x="1125.5" y="178.99" font-family="Liberation Sans, sans-serif" font-size="8.8" fill="#65686f" text-anchor="start" textLength="36.6" lengthAdjust="spacingAndGlyphs">66000.00</text>
<text x="1125.5" y="215.3" font-family="Liberation Sans, sans-serif" font-size="8.8" fill="#65686f" text-anchor="start" textLength="36.6" lengthAdjust="spacingAndGlyphs">64000.00</text>
<text x="1125.5" y="252.77" font-family="Liberation Sans, sans-serif" font-size="8.8" fill="#65686f" text-anchor="start" textLength="36.6" lengthAdjust="spacingAndGlyphs">62000.00</text>
<text x="1125.5" y="281.67" font-family="Liberation Sans, sans-serif" font-size="8.8" fill="#65686f" text-anchor="start" textLength="36.6" lengthAdjust="spacingAndGlyphs">60500.00</text>
<text x="1125.5" y="305.31" font-family="Liberation Sans, sans-serif" font-size="8.8" fill="#65686f" text-anchor="start" textLength="36.6" lengthAdjust="spacingAndGlyphs">59300.00</text>
<text x="1125.5" y="329.44" font-family="Liberation Sans, sans-serif" font-size="8.8" fill="#65686f" text-anchor="start" textLength="36.6" lengthAdjust="spacingAndGlyphs">58100.00</text>
<text x="1125.5" y="354.07" font-family="Liberation Sans, sans-serif" font-size="8.8" fill="#65686f" text-anchor="start" textLength="36.6" lengthAdjust="spacingAndGlyphs">56900.00</text>
<text x="1125.5" y="379.22" font-family="Liberation Sans, sans-serif" font-size="8.8" fill="#65686f" text-anchor="start" textLength="36.6" lengthAdjust="spacingAndGlyphs">55700.00</text>
<rect x="1122.5" y="-3" width="44" height="23" rx="4" fill="#fff" stroke="#eef0f4" stroke-width="1"/>
<text x="1130" y="12.6" font-family="Liberation Sans, sans-serif" font-size="8.4" fill="#3b3e48" text-anchor="start" font-weight="bold" textLength="15" lengthAdjust="spacingAndGlyphs">USD</text>
<text x="1125.5" y="419.5" font-family="Liberation Sans, sans-serif" font-size="8.8" fill="#65686f" text-anchor="start" textLength="22" lengthAdjust="spacingAndGlyphs">75.00</text>
<text x="1125.5" y="443.8" font-family="Liberation Sans, sans-serif" font-size="8.8" fill="#65686f" text-anchor="start" textLength="22" lengthAdjust="spacingAndGlyphs">50.00</text>
<text x="1125.5" y="468.1" font-family="Liberation Sans, sans-serif" font-size="8.8" fill="#65686f" text-anchor="start" textLength="22" lengthAdjust="spacingAndGlyphs">25.00</text>
<path d="M1119.5,236 h44.5 a2,2 0 0 1 2,2 v8 a2,2 0 0 1 -2,2 h-44.5 z" fill="#2962ff"/>
<text x="1125.3" y="245" font-family="Liberation Sans, sans-serif" font-size="8.4" fill="#fff" text-anchor="start" textLength="36.7" lengthAdjust="spacingAndGlyphs">62404.09</text>
<path d="M1119.5,289.2 h44.5 a2,2 0 0 1 2,2 v8 a2,2 0 0 1 -2,2 h-44.5 z" fill="#2962ff"/>
<text x="1125.3" y="298.2" font-family="Liberation Sans, sans-serif" font-size="8.4" fill="#fff" text-anchor="start" textLength="36.7" lengthAdjust="spacingAndGlyphs">59655.00</text>
<path d="M1119.5,145.1 h45.2 a2,2 0 0 1 2,2 v18.9 a2,2 0 0 1 -2,2 h-45.2 z" fill="#26a69a"/>
<text x="1125.5" y="154.6" font-family="Liberation Sans, sans-serif" font-size="8.4" fill="#fff" text-anchor="start" textLength="37" lengthAdjust="spacingAndGlyphs">67397.24</text>
<text x="1125.5" y="164.8" font-family="Liberation Sans, sans-serif" font-size="8.4" fill="#fff" text-anchor="start" textLength="35.4" lengthAdjust="spacingAndGlyphs">03:01:25</text>
<path d="M1118.8,145.1 h-36.1 a2,2 0 0 0 -2,2 v8.5 a2,2 0 0 0 2,2 h36.1 z" fill="#26a69a"/>
<text x="1084.6" y="154.6" font-family="Liberation Sans, sans-serif" font-size="8.4" fill="#fff" text-anchor="start" textLength="30.2" lengthAdjust="spacingAndGlyphs">BTCUSD</text>
<text x="38.5" y="483.2" font-family="Liberation Sans, sans-serif" font-size="8.6" fill="#65686f" text-anchor="middle">28</text>
<text x="125.6" y="483.2" font-family="Liberation Sans, sans-serif" font-size="8.6" fill="#65686f" text-anchor="middle" font-weight="bold">Mar</text>
<text x="191.5" y="483.2" font-family="Liberation Sans, sans-serif" font-size="8.6" fill="#65686f" text-anchor="middle">15:00</text>
<text x="257.7" y="483.2" font-family="Liberation Sans, sans-serif" font-size="8.6" fill="#65686f" text-anchor="middle">4</text>
<text x="345.1" y="483.2" font-family="Liberation Sans, sans-serif" font-size="8.6" fill="#65686f" text-anchor="middle">6</text>
<text x="432.3" y="483.2" font-family="Liberation Sans, sans-serif" font-size="8.6" fill="#65686f" text-anchor="middle">8</text>
<text x="556.7" y="483.2" font-family="Liberation Sans, sans-serif" font-size="8.6" fill="#65686f" text-anchor="middle">11</text>
<text x="644.6" y="483.2" font-family="Liberation Sans, sans-serif" font-size="8.6" fill="#65686f" text-anchor="middle">13</text>
<text x="732.6" y="483.2" font-family="Liberation Sans, sans-serif" font-size="8.6" fill="#65686f" text-anchor="middle">15</text>
<text x="797.4" y="483.2" font-family="Liberation Sans, sans-serif" font-size="8.6" fill="#65686f" text-anchor="middle">12:00</text>
<text x="863.3" y="483.2" font-family="Liberation Sans, sans-serif" font-size="8.6" fill="#65686f" text-anchor="middle">18</text>
<text x="951.5" y="483.2" font-family="Liberation Sans, sans-serif" font-size="8.6" fill="#65686f" text-anchor="middle">20</text>
<text x="1038.7" y="483.2" font-family="Liberation Sans, sans-serif" font-size="8.6" fill="#65686f" text-anchor="middle">22</text>
<text x="1104.6" y="483.2" font-family="Liberation Sans, sans-serif" font-size="8.6" fill="#65686f" text-anchor="middle">12:00</text>
<text x="8.8" y="11.5" font-family="Liberation Sans, sans-serif" font-size="9.0" fill="#62646b" text-anchor="start" textLength="30.4" lengthAdjust="spacingAndGlyphs">Bitcoin</text>
<text x="44.3" y="11.5" font-family="Liberation Sans, sans-serif" font-size="9.0" fill="#62646b" text-anchor="start" textLength="3.0" lengthAdjust="spacingAndGlyphs">/</text>
<text x="52" y="11.5" font-family="Liberation Sans, sans-serif" font-size="9.0" fill="#62646b" text-anchor="start" textLength="16.7" lengthAdjust="spacingAndGlyphs">U.S.</text>
<text x="73.8" y="11.5" font-family="Liberation Sans, sans-serif" font-size="9.0" fill="#62646b" text-anchor="start" textLength="25.6" lengthAdjust="spacingAndGlyphs">Dollar,</text>
<text x="103.2" y="11.5" font-family="Liberation Sans, sans-serif" font-size="9.0" fill="#62646b" text-anchor="start" textLength="12.8" lengthAdjust="spacingAndGlyphs">4h,</text>
<text x="120.5" y="11.5" font-family="Liberation Sans, sans-serif" font-size="9.0" fill="#62646b" text-anchor="start" textLength="37.2" lengthAdjust="spacingAndGlyphs">BINANCE</text>
<text x="164.7" y="11.5" font-family="Liberation Sans, sans-serif" font-size="9.0" fill="#62646b" text-anchor="start" textLength="5.9" lengthAdjust="spacingAndGlyphs">O</text>
<text x="171.8" y="11.5" font-family="Liberation Sans, sans-serif" font-size="9.0" fill="#8e9096" text-anchor="start" textLength="37.2" lengthAdjust="spacingAndGlyphs">67104.46</text>
<text x="216" y="11.5" font-family="Liberation Sans, sans-serif" font-size="9.0" fill="#62646b" text-anchor="start" textLength="5.6" lengthAdjust="spacingAndGlyphs">H</text>
<text x="222.6" y="11.5" font-family="Liberation Sans, sans-serif" font-size="9.0" fill="#8e9096" text-anchor="start" textLength="36.9" lengthAdjust="spacingAndGlyphs">67756.84</text>
<text x="266.4" y="11.5" font-family="Liberation Sans, sans-serif" font-size="9.0" fill="#62646b" text-anchor="start" textLength="4.2" lengthAdjust="spacingAndGlyphs">L</text>
<text x="271.3" y="11.5" font-family="Liberation Sans, sans-serif" font-size="9.0" fill="#8e9096" text-anchor="start" textLength="36.9" lengthAdjust="spacingAndGlyphs">67082.32</text>
<text x="315.2" y="11.5" font-family="Liberation Sans, sans-serif" font-size="9.0" fill="#62646b" text-anchor="start" textLength="5.2" lengthAdjust="spacingAndGlyphs">C</text>
<text x="320.5" y="11.5" font-family="Liberation Sans, sans-serif" font-size="9.0" fill="#8e9096" text-anchor="start" textLength="38.0" lengthAdjust="spacingAndGlyphs">67397.24</text>
<text x="365.4" y="11.5" font-family="Liberation Sans, sans-serif" font-size="9.0" fill="#8e9096" text-anchor="start" textLength="31.1" lengthAdjust="spacingAndGlyphs">+306.17</text>
<text x="400" y="11.5" font-family="Liberation Sans, sans-serif" font-size="9.0" fill="#8e9096" text-anchor="start" textLength="35.9" lengthAdjust="spacingAndGlyphs">(+0.46%)</text>
<text x="8.8" y="25.6" font-family="Liberation Sans, sans-serif" font-size="9.0" fill="#62646b" text-anchor="start" textLength="18.6" lengthAdjust="spacingAndGlyphs">EMA</text>
<text x="30.6" y="25.6" font-family="Liberation Sans, sans-serif" font-size="9.0" fill="#62646b" text-anchor="start" textLength="63.3" lengthAdjust="spacingAndGlyphs">20/50/100/200</text>
<text x="100.6" y="25.6" font-family="Liberation Sans, sans-serif" font-size="9.0" fill="#ff1a1a" text-anchor="start" textLength="37.6" lengthAdjust="spacingAndGlyphs">65925.73</text>
<text x="144.9" y="25.6" font-family="Liberation Sans, sans-serif" font-size="9.0" fill="#ff8c1a" text-anchor="start" textLength="37.1" lengthAdjust="spacingAndGlyphs">66939.25</text>
<text x="189.1" y="25.6" font-family="Liberation Sans, sans-serif" font-size="9.0" fill="#1ae8f0" text-anchor="start" textLength="37.2" lengthAdjust="spacingAndGlyphs">66253.17</text>
<text x="232.7" y="25.6" font-family="Liberation Sans, sans-serif" font-size="9.0" fill="#1a1aff" text-anchor="start" textLength="37.1" lengthAdjust="spacingAndGlyphs">62381.11</text>
<text x="8.8" y="38.9" font-family="Liberation Sans, sans-serif" font-size="9.0" fill="#62646b" text-anchor="start" textLength="12.4" lengthAdjust="spacingAndGlyphs">Vol</text>
<text x="31.9" y="38.9" font-family="Liberation Sans, sans-serif" font-size="9.0" fill="#62646b" text-anchor="start" textLength="16.3" lengthAdjust="spacingAndGlyphs">BTC</text>
<text x="55" y="38.9" font-family="Liberation Sans, sans-serif" font-size="9.0" fill="#26a69a" text-anchor="start" textLength="9.8" lengthAdjust="spacingAndGlyphs">29</text>
<circle cx="26.8" cy="35.6" r="0.75" fill="#62646b"/>
<text x="8.7" y="416.2" font-family="Liberation Sans, sans-serif" font-size="9.0" fill="#62646b" text-anchor="start" textLength="12.3" lengthAdjust="spacingAndGlyphs">RSI</text>
<text x="25.3" y="416.2" font-family="Liberation Sans, sans-serif" font-size="9.0" fill="#62646b" text-anchor="start" textLength="15.0" lengthAdjust="spacingAndGlyphs">(14,</text>
<text x="44.5" y="416.2" font-family="Liberation Sans, sans-serif" font-size="9.0" fill="#62646b" text-anchor="start" textLength="24.6" lengthAdjust="spacingAndGlyphs">close,</text>
<text x="74.4" y="416.2" font-family="Liberation Sans, sans-serif" font-size="9.0" fill="#62646b" text-anchor="start" textLength="21.4" lengthAdjust="spacingAndGlyphs">SMA,</text>
<text x="100.6" y="416.2" font-family="Liberation Sans, sans-serif" font-size="9.0" fill="#62646b" text-anchor="start" textLength="10.2" lengthAdjust="spacingAndGlyphs">14,</text>
<text x="116.1" y="416.2" font-family="Liberation Sans, sans-serif" font-size="9.0" fill="#62646b" text-anchor="start" textLength="8.0" lengthAdjust="spacingAndGlyphs">2)</text>
<text x="131.4" y="416.2" font-family="Liberation Sans, sans-serif" font-size="9.0" fill="#7e57c2" text-anchor="start" textLength="21.8" lengthAdjust="spacingAndGlyphs">54.82</text>
<text x="160.6" y="416.2" font-family="Liberation Sans, sans-serif" font-size="9.0" fill="#f2dc3a" text-anchor="start" textLength="22.4" lengthAdjust="spacingAndGlyphs">41.78</text>
<circle cx="194" cy="412.9" r="3.2" fill="none" stroke="#62646b" stroke-width="0.9"/>
<line x1="191.4" y1="416.6" x2="196.6" y2="409.2" stroke="#62646b" stroke-width="0.9"/>
<circle cx="210.2" cy="412.9" r="3.2" fill="none" stroke="#62646b" stroke-width="0.9"/>
<line x1="207.6" y1="416.6" x2="212.79999999999998" y2="409.2" stroke="#62646b" stroke-width="0.9"/>
<circle cx="226" cy="412.9" r="3.2" fill="none" stroke="#62646b" stroke-width="0.9"/>
<line x1="223.4" y1="416.6" x2="228.6" y2="409.2" stroke="#62646b" stroke-width="0.9"/>
<circle cx="242.3" cy="412.9" r="3.2" fill="none" stroke="#62646b" stroke-width="0.9"/>
<line x1="239.70000000000002" y1="416.6" x2="244.9" y2="409.2" stroke="#62646b" stroke-width="0.9"/>
<circle cx="258.3" cy="412.9" r="3.2" fill="none" stroke="#62646b" stroke-width="0.9"/>
<line x1="255.70000000000002" y1="416.6" x2="260.90000000000003" y2="409.2" stroke="#62646b" stroke-width="0.9"/>
<circle cx="274" cy="412.9" r="3.2" fill="none" stroke="#62646b" stroke-width="0.9"/>
<line x1="271.4" y1="416.6" x2="276.6" y2="409.2" stroke="#62646b" stroke-width="0.9"/>
<g fill="#131722"><path d="M2.2,501.3 h5.9 v7.9 h-3 v-4.7 h-2.9 z"/><circle cx="10.9" cy="503" r="1.5"/><path d="M13.7,501.3 h3.9 l-2.6,7.9 h-3.5 z"/></g>
<text x="21.2" y="509.2" font-family="Liberation Sans, sans-serif" font-size="9.8" fill="#1e222d" text-anchor="start" textLength="56.8" lengthAdjust="spacingAndGlyphs" stroke="#1e222d" stroke-width="0.25">TradingView</text>
</g>
</svg>
</body></html>
